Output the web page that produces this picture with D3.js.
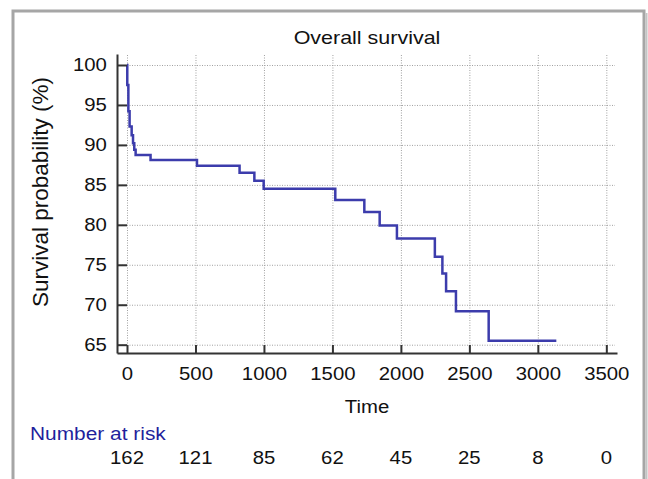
<!DOCTYPE html>
<html>
<head>
<meta charset="utf-8">
<script src="https://cdn.jsdelivr.net/npm/d3@7"></script>
<style>
  body { margin: 0; background: #fff; }
  svg { display: block; font-family: "Liberation Sans", Arial, sans-serif; }
</style>
</head>
<body>
<svg class="km"></svg>
<script>
const width = 648;
const height = 479;

// data
const timeTicks = [0, 500, 1000, 1500, 2000, 2500, 3000, 3500];
const survTicks = [65, 70, 75, 80, 85, 90, 95, 100];
const eventTimes = [2, 10, 19, 34, 44, 53, 63, 172, 511, 822, 930, 998, 1521, 1733, 1845, 1971, 2248, 2303, 2330, 2402, 2641];
const survival = [97.5, 94.2, 92.3, 91.2, 90.2, 89.4, 88.75, 88.1, 87.4, 86.5, 85.5, 84.5, 83.1, 81.6, 79.9, 78.3, 76.0, 73.9, 71.7, 69.2, 65.5];
const lastFollowUp = 3135;
const atRisk = [162, 121, 85, 62, 45, 25, 8, 0];

const sx = 1.13; // the reference text is a bit wide

const svg = d3.select('.km')
  .attr('width', width)
  .attr('height', height);

// outer frame
svg.append('rect')
  .attr('x', 13).attr('y', 11)
  .attr('width', 631).attr('height', 500)
  .attr('fill', 'none')
  .attr('stroke', '#a6a6a6')
  .attr('stroke-width', 3);
svg.append('line')
  .attr('x1', 646.5).attr('x2', 646.5).attr('y1', 13).attr('y2', height)
  .attr('stroke', '#c4c4c4').attr('stroke-width', 2);

const xScale = d3.scaleLinear().domain([-73, 3578]).range([117, 617]);
const yScale = d3.scaleLinear().domain([63.96, 101.375]).range([353, 54]);

// grid
const grid = svg.append('g')
  .attr('stroke', '#a0a0a0')
  .attr('stroke-width', 1)
  .attr('stroke-dasharray', '1,1.5');
grid.selectAll('.hg').data(survTicks).enter().append('line')
  .attr('x1', 117).attr('x2', 615)
  .attr('y1', d => yScale(d) + 0.5).attr('y2', d => yScale(d) + 0.5);
grid.selectAll('.vg').data(timeTicks).enter().append('line')
  .attr('y1', 55).attr('y2', 353)
  .attr('x1', d => xScale(d) + 0.5).attr('x2', d => xScale(d) + 0.5);

// survival curve
const points = [{t: 0, s: 100}];
eventTimes.forEach((t, i) => points.push({t: t, s: survival[i]}));
points.push({t: lastFollowUp, s: survival[survival.length - 1]});

const line = d3.line()
  .x(d => xScale(d.t))
  .y(d => yScale(d.s))
  .curve(d3.curveStepAfter);

svg.append('path')
  .datum(points)
  .attr('d', line)
  .attr('fill', 'none')
  .attr('stroke', '#3c3cac')
  .attr('stroke-width', 2.5);

// axes
const yaxis = d3.axisLeft(yScale).tickValues(survTicks)
  .tickSizeInner(-10).tickSizeOuter(0).tickPadding(9);
const xaxis = d3.axisBottom(xScale).tickValues(timeTicks)
  .tickFormat(d3.format('d'))
  .tickSizeInner(-8).tickSizeOuter(0).tickPadding(14);

const gy = svg.append('g').attr('transform', 'translate(117,0)').call(yaxis);
const gx = svg.append('g').attr('transform', 'translate(0,353)').call(xaxis);

[gx, gy].forEach(g => {
  g.selectAll('path, line').attr('stroke', '#333').attr('stroke-width', 2);
  g.selectAll('text')
    .attr('font-size', 18)
    .attr('fill', '#111')
    .attr('font-family', '"Liberation Sans", Arial, sans-serif')
    .attr('transform', `scale(${sx},1)`);
});

// labels
const stretched = (x, y, txt, size, anchor) => svg.append('text')
  .attr('transform', `translate(${x},${y}) scale(${sx},1)`)
  .attr('text-anchor', anchor || 'middle')
  .attr('font-size', size)
  .attr('fill', '#111')
  .text(txt);

stretched(367, 43.5, 'Overall survival', 19);
stretched(367, 413, 'Time', 18);

svg.append('text')
  .attr('transform', 'translate(48,192) rotate(-90)')
  .attr('text-anchor', 'middle')
  .attr('font-size', 22.5)
  .attr('fill', '#111')
  .text('Survival probability (%)');

stretched(30, 440, 'Number at risk', 18.5, 'start').attr('fill', '#1f1f9c');

svg.append('g').selectAll('text').data(atRisk).enter().append('text')
  .attr('transform', (d, i) => `translate(${xScale(timeTicks[i])},464) scale(${sx},1)`)
  .attr('text-anchor', 'middle')
  .attr('font-size', 18)
  .attr('fill', '#111')
  .text(d => d);
</script>
</body>
</html>
